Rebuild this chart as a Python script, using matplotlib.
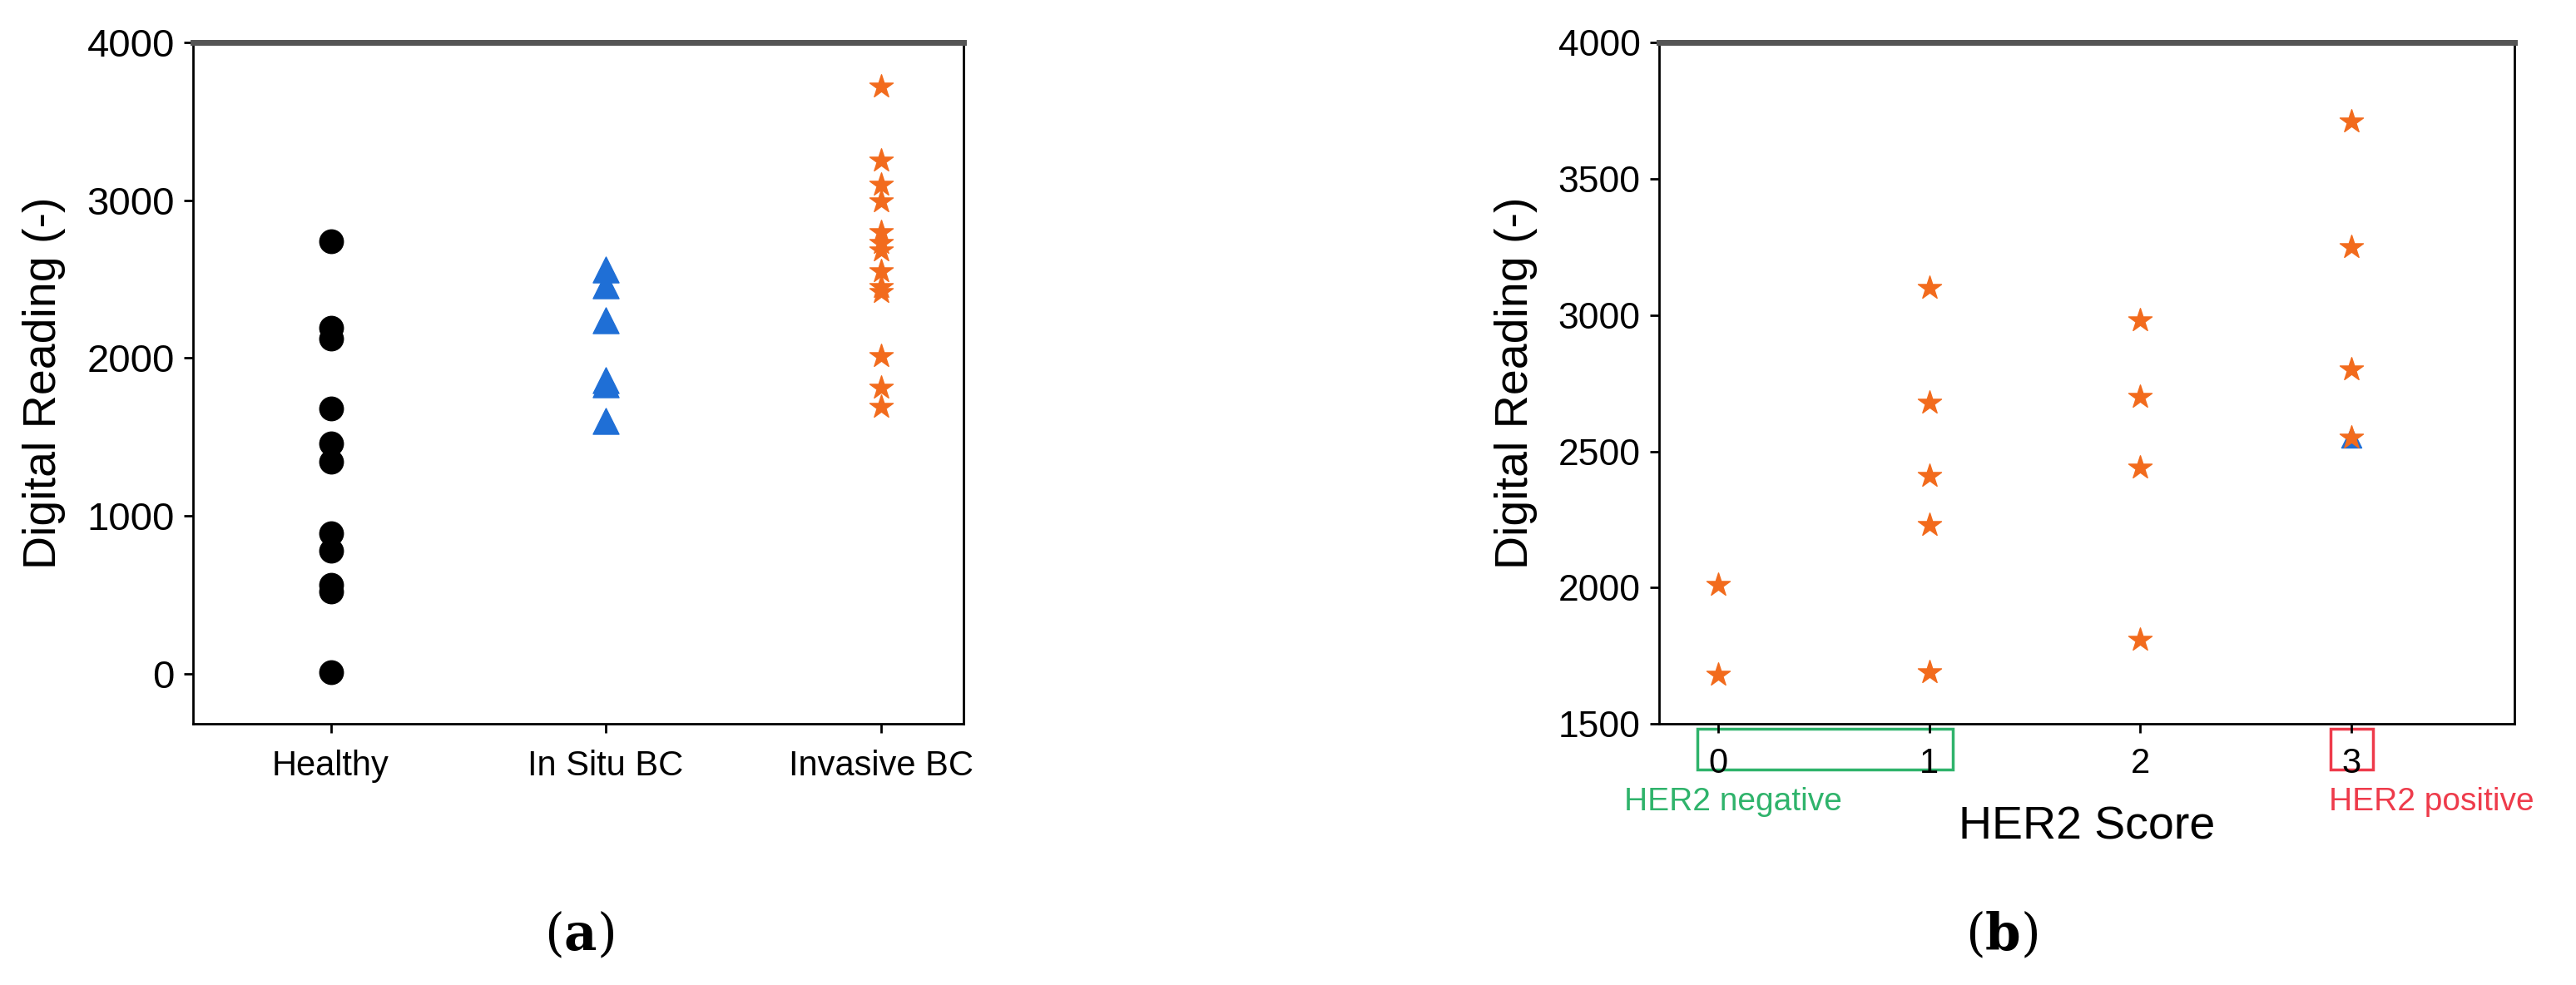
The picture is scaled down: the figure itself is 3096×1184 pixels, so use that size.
import matplotlib
matplotlib.use("Agg")
import matplotlib.pyplot as plt
from matplotlib.patches import Rectangle

cats_a = ["Healthy", "In Situ BC", "Invasive BC"]
healthy = [2740, 2190, 2120, 1680, 1460, 1340, 890, 780, 560, 520, 10]
insitu = [2560, 2460, 2240, 1860, 1830, 1600]
invasive = [3720, 3250, 3100, 2990, 2800, 2730, 2680, 2550, 2450, 2420, 2010, 1810, 1690]

her2_scores = [0, 0, 1, 1, 1, 1, 1, 2, 2, 2, 2, 3, 3, 3, 3]
her2_vals = [2010, 1680, 3100, 2680, 2410, 2230, 1690, 2980, 2700, 2440, 1810, 3710, 3250, 2800, 2550]
her2_tri_score = [3]
her2_tri_val = [2550]

plt.rcParams['font.family'] = ['Liberation Sans', 'DejaVu Sans']
plt.rcParams['mathtext.fontset'] = 'dejavuserif'
fig = plt.figure(figsize=(30.96, 11.84), dpi=100)
orange = "#f26b1d"; blue = "#1f6fd6"

ax = fig.add_axes([0.075, 0.265, 0.299, 0.692])
ax.scatter([0]*len(healthy), healthy, s=420, c="black", marker="o")
ax.scatter([1]*len(insitu), insitu, s=500, c=blue, marker="^")
ax.scatter([2]*len(invasive), invasive, s=450, c=orange, marker="*")
ax.set_xlim(-0.5, 2.3); ax.set_ylim(-320, 4000)
ax.set_xticks([0, 1, 2]); ax.set_xticklabels(cats_a, fontsize=30)
ax.set_yticks([0, 1000, 2000, 3000, 4000])
ax.tick_params(axis='y', labelsize=34, length=8, width=2, pad=8)
ax.tick_params(axis='x', length=8, width=2, pad=14)
ax.set_ylabel("Digital Reading (-)", fontsize=40, labelpad=18)

bx = fig.add_axes([0.644, 0.265, 0.332, 0.692])
bx.scatter(her2_scores, her2_vals, s=450, c=orange, marker="*", zorder=3)
bx.scatter(her2_tri_score, her2_tri_val, s=300, c=blue, marker="^", zorder=2)
bx.set_xlim(-0.28, 3.77); bx.set_ylim(1500, 4000)
bx.set_xticks([0, 1, 2, 3]); bx.set_xticklabels(["0", "1", "2", "3"], fontsize=30)
bx.set_yticks([1500, 2000, 2500, 3000, 3500, 4000])
bx.tick_params(axis='y', labelsize=32, length=8, width=2, pad=8)
bx.tick_params(axis='x', length=8, width=2, pad=12)
bx.set_ylabel("Digital Reading (-)", fontsize=40, labelpad=18)
bx.set_xlabel("HER2 Score", fontsize=40, labelpad=22)

for a in (ax, bx):
    for s in a.spines.values():
        s.set_linewidth(2)
    a.spines['top'].set_linewidth(5); a.spines['top'].set_color("#555555")

green = "#2fb36b"; red = "#ee3b4b"
bx.add_patch(Rectangle((-0.1, 1332), 1.21, 150, transform=bx.transData, fill=False,
                       ec=green, lw=2.5, clip_on=False))
bx.add_patch(Rectangle((2.9, 1332), 0.2, 150, transform=bx.transData, fill=False,
                       ec=red, lw=2.5, clip_on=False))
bx.text(0.07, 1215, "HER2 negative", color=green, fontsize=28, ha="center", va="center")
bx.text(3.38, 1215, "HER2 positive", color=red, fontsize=28, ha="center", va="center")

fig.text(0.225, 0.05, r"($\mathbf{a}$)", fontsize=44, ha="center", va="center", family="DejaVu Serif")
fig.text(0.777, 0.05, r"($\mathbf{b}$)", fontsize=44, ha="center", va="center", family="DejaVu Serif")
fig.savefig("out.png")
